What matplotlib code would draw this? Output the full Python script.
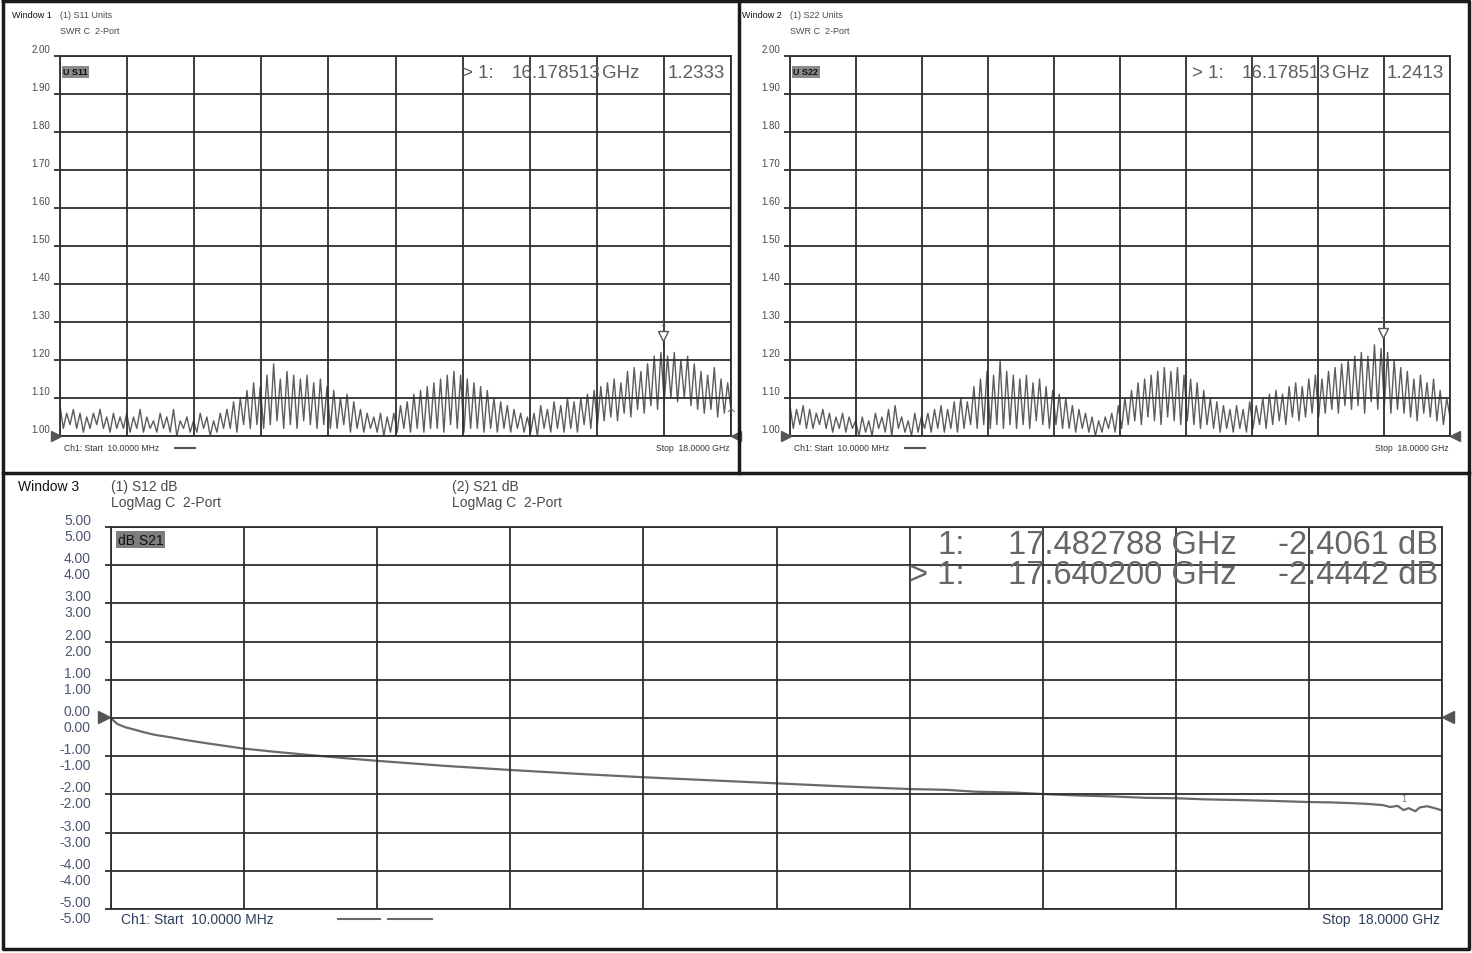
import numpy as np
import matplotlib
matplotlib.use('Agg')
import matplotlib.pyplot as plt
from matplotlib.lines import Line2D

W, H = 1472, 954

NARROW = ['Liberation Sans Narrow', 'Liberation Sans', 'DejaVu Sans']
REGULAR = ['Liberation Sans', 'DejaVu Sans']

# sweep
F_START, F_STOP = 0.01, 18.0
X_DIVS = np.linspace(F_START, F_STOP, 11)

# Window 1: S11 SWR, local maxima / minima of the ripple along the sweep
s11_peaks = [1.08, 1.06, 1.07, 1.06, 1.05, 1.06, 1.07, 1.05, 1.06, 1.05, 1.06, 1.05, 1.07,
             1.05, 1.04, 1.06, 1.05, 1.07, 1.04, 1.05, 1.04, 1.06, 1.05, 1.04, 1.06,
             1.07, 1.09, 1.10, 1.12, 1.14, 1.13,
             1.16, 1.19, 1.15, 1.17, 1.16, 1.15, 1.16, 1.14, 1.15, 1.13,
             1.12, 1.10, 1.11, 1.09,
             1.07, 1.06, 1.05, 1.06, 1.05,
             1.06, 1.08, 1.09, 1.11, 1.12, 1.13,
             1.14, 1.15, 1.16, 1.17, 1.16, 1.15, 1.14,
             1.13, 1.12, 1.10, 1.09, 1.08, 1.07, 1.06,
             1.05, 1.06, 1.08, 1.07, 1.09, 1.08, 1.10, 1.09, 1.10, 1.11,
             1.12, 1.13, 1.14, 1.15, 1.14, 1.17, 1.18, 1.17, 1.19, 1.21, 1.22,
             1.21, 1.22, 1.20, 1.21, 1.19, 1.17, 1.16, 1.18, 1.15, 1.14]
s11_troughs = [1.02, 1.03, 1.02, 1.01, 1.02, 1.03, 1.02, 1.01, 1.02, 1.02, 1.01, 1.02, 1.01,
               1.02, 1.01, 1.02, 1.01, 1.00, 1.02, 1.01, 1.01, 1.02, 1.00, 1.01, 1.02,
               1.02, 1.01, 1.03, 1.02, 1.03, 1.02,
               1.03, 1.04, 1.02, 1.03, 1.02, 1.04, 1.03, 1.02, 1.03, 1.02,
               1.02, 1.03, 1.01, 1.02,
               1.01, 1.02, 1.01, 1.00, 1.01,
               1.01, 1.02, 1.01, 1.02, 1.01, 1.02,
               1.02, 1.01, 1.03, 1.02, 1.01, 1.02, 1.02,
               1.01, 1.02, 1.01, 1.02, 1.01, 1.02, 1.01,
               1.01, 1.00, 1.02, 1.01, 1.02, 1.01, 1.02, 1.01, 1.03, 1.02,
               1.03, 1.04, 1.05, 1.04, 1.06, 1.05, 1.07, 1.06, 1.08, 1.07, 1.09,
               1.10, 1.09, 1.10, 1.08, 1.07, 1.06, 1.07, 1.05, 1.06, 1.07]

# Window 2: S22 SWR
s22_peaks = [1.08, 1.07, 1.08, 1.07, 1.06, 1.07, 1.06, 1.05, 1.06, 1.05,
             1.04, 1.05, 1.04, 1.06, 1.05, 1.07, 1.08, 1.05, 1.04, 1.06, 1.05,
             1.06, 1.07, 1.08, 1.07, 1.09, 1.10, 1.09,
             1.13, 1.15, 1.17, 1.16, 1.20, 1.17, 1.16, 1.15, 1.16, 1.14, 1.15, 1.13, 1.12, 1.11,
             1.10, 1.08, 1.07, 1.06, 1.05, 1.04, 1.05, 1.06, 1.08,
             1.10, 1.12, 1.14, 1.15, 1.16, 1.17, 1.18, 1.17, 1.18, 1.16, 1.15, 1.14, 1.12,
             1.10, 1.09, 1.08, 1.07, 1.08, 1.07, 1.09, 1.08, 1.10,
             1.11, 1.12, 1.11, 1.13, 1.14, 1.13, 1.15, 1.16, 1.15, 1.17, 1.18, 1.19,
             1.20, 1.21, 1.22, 1.21, 1.24, 1.23, 1.22, 1.20,
             1.18, 1.17, 1.15, 1.16, 1.14, 1.15, 1.12, 1.10]
s22_troughs = [1.02, 1.03, 1.02, 1.02, 1.03, 1.02, 1.01, 1.02, 1.01, 1.02,
               1.00, 1.01, 1.00, 1.02, 1.01, 1.00, 1.02, 1.01, 1.00, 1.01, 1.02,
               1.01, 1.02, 1.01, 1.02, 1.01, 1.02, 1.03,
               1.02, 1.03, 1.02, 1.03, 1.02, 1.03, 1.02, 1.03, 1.02, 1.04, 1.03, 1.02, 1.03, 1.02,
               1.02, 1.01, 1.02, 1.01, 1.00, 1.01, 1.02, 1.01, 1.02,
               1.03, 1.04, 1.03, 1.05, 1.04, 1.03, 1.05, 1.04, 1.03, 1.04, 1.03, 1.02, 1.03,
               1.02, 1.01, 1.02, 1.01, 1.02, 1.01, 1.02, 1.03, 1.02,
               1.03, 1.04, 1.03, 1.05, 1.04, 1.05, 1.06, 1.05, 1.06, 1.07, 1.06, 1.08,
               1.07, 1.08, 1.06, 1.09, 1.07, 1.08, 1.06, 1.07,
               1.06, 1.05, 1.04, 1.06, 1.05, 1.04, 1.03, 1.05]

# Window 3: S21 insertion loss
s21_freq = [0.01, 0.05, 0.1, 0.2, 0.3, 0.45, 0.6, 0.8, 1.0, 1.3, 1.8, 2.2, 2.7, 3.1, 3.6,
            4.5, 5.4, 6.3, 7.2, 8.1, 9.0, 9.9, 10.8, 11.3, 11.7, 12.2, 12.6, 13.1, 13.5,
            14.0, 14.4, 14.8, 15.3, 15.7, 16.2, 16.5, 16.8, 17.0, 17.2, 17.3, 17.4, 17.48,
            17.55, 17.64, 17.7, 17.8, 17.9, 18.0]
s21_db = [0.0, -0.08, -0.16, -0.24, -0.29, -0.37, -0.44, -0.50, -0.57, -0.66, -0.80, -0.88,
          -0.97, -1.04, -1.12, -1.25, -1.36, -1.46, -1.55, -1.63, -1.71, -1.79, -1.86, -1.88,
          -1.93, -1.95, -1.99, -2.03, -2.05, -2.09, -2.10, -2.13, -2.15, -2.17, -2.20, -2.21,
          -2.23, -2.25, -2.28, -2.33, -2.30, -2.41, -2.36, -2.44, -2.34, -2.31, -2.36, -2.42]

swr_ticks = [2.00, 1.90, 1.80, 1.70, 1.60, 1.50, 1.40, 1.30, 1.20, 1.10, 1.00]
db_ticks = [5, 4, 3, 2, 1, 0, -1, -2, -3, -4, -5]

GRID = '#2e2e2e'
TRACE = '#5c5c5c'
LABEL = '#4a4a4a'
DB_LABEL = '#4b5670'
READOUT = '#5e5e5e'


def fx(px):
    return px / W


def fy(py):
    return 1 - py / H


def ftext(fig, px, py, s, **kw):
    kw.setdefault('va', 'center')
    fig.text(fx(px), fy(py), s, **kw)


def zigzag(peaks, troughs):
    vals = np.empty(2 * len(peaks))
    vals[0::2] = peaks
    vals[1::2] = troughs
    freq = np.linspace(F_START, F_STOP, len(vals))
    return freq, vals


def style_axes(ax, yticks):
    ax.set_xlim(F_START, F_STOP)
    ax.set_xticks(X_DIVS)
    ax.set_yticks(yticks)
    ax.grid(True, color=GRID, lw=1.3)
    ax.set_axisbelow(False)
    for s in ax.spines.values():
        s.set_color(GRID)
        s.set_linewidth(1.3)
    ax.tick_params(axis='x', length=0, labelbottom=False)
    ax.tick_params(axis='y', length=4, width=1.3, color=GRID, labelleft=False)


def swr_panel(fig, left, right, peaks, troughs, name, mk_val, window):
    ax = fig.add_axes([fx(left), fy(437), fx(right - left), (437 - 57) / H])
    freq, vals = zigzag(peaks, troughs)
    ax.plot(freq, vals, color=TRACE, lw=1.0)
    ax.set_ylim(1.0, 2.0)
    style_axes(ax, swr_ticks)
    for t in swr_ticks:
        ax.annotate(f'{t:.2f}', xy=(0, t), xycoords=('axes fraction', 'data'),
                    xytext=(-10, 7), textcoords='offset pixels', ha='right', va='center',
                    fontsize=7, family=NARROW, color=LABEL)
    # marker 1
    ax.plot([16.178513], [mk_val + 0.03], marker='v', ms=7, mfc='white', mec='#555555',
            mew=1, clip_on=False, zorder=5)
    ax.plot([16.178513, 16.178513], [mk_val, mk_val + 0.03], color='#555555', lw=0.8)
    ax.text(16.178513, mk_val + 0.065, '1', ha='center', va='center', fontsize=6.5,
            family=NARROW, color='#555555')
    ax.text(0.005, 0.97, f'U {name}', transform=ax.transAxes, ha='left', va='top',
            fontsize=6.5, family=NARROW, weight='bold', color='#111111',
            bbox=dict(boxstyle='square,pad=0.15', fc='#8a8a8a', ec='none'))

    # readout, pieces placed where the analyser draws them
    ro = dict(fontsize=13.5, family=NARROW, color=READOUT)
    ftext(fig, left + 402, 74, '> 1:', **ro)
    ftext(fig, left + 452, 74, '16.178513', **ro)
    ftext(fig, left + 542, 74, 'GHz', **ro)
    ftext(fig, right - 6, 74, f'{mk_val:.4f}', ha='right', **ro)

    # header
    ftext(fig, left - 48, 16, f'Window {window}', fontsize=6.5, family=NARROW, color='#111111')
    ftext(fig, left, 16, f'(1) {name} Units', fontsize=6.5, family=NARROW, color=LABEL)
    ftext(fig, left, 32, 'SWR C  2-Port', fontsize=6.5, family=NARROW, color=LABEL)

    # footer
    ftext(fig, left + 4, 449, 'Ch1: Start  10.0000 MHz', fontsize=6.2, family=NARROW,
          color='#333333')
    fig.add_artist(Line2D([fx(left + 115), fx(left + 135)], [fy(449), fy(449)],
                          color='#555555', lw=1.5))
    ftext(fig, right - 1, 449, 'Stop  18.0000 GHz', fontsize=6.2, family=NARROW,
          color='#333333', ha='right')

    # reference level arrows
    fig.add_artist(Line2D([fx(left - 4)], [fy(437)], marker='>', ms=7, color='#555555',
                          lw=0))
    fig.add_artist(Line2D([fx(right + 5)], [fy(437)], marker='<', ms=7, color='#555555',
                          lw=0))
    return ax


fig = plt.figure(figsize=(W / 100, H / 100), dpi=100)
fig.patch.set_facecolor('white')

ax1 = swr_panel(fig, 60, 731, s11_peaks, s11_troughs, 'S11', 1.2333, 1)
ax1.text(F_STOP, 1.06, '^', ha='center', va='center', fontsize=9, color='#666666',
         clip_on=False)
ax2 = swr_panel(fig, 790, 1450, s22_peaks, s22_troughs, 'S22', 1.2413, 2)

# Window 3
ax3 = fig.add_axes([fx(111), fy(910), fx(1442 - 111), (910 - 528) / H])
ax3.plot(s21_freq, s21_db, color='#6a6a6a', lw=1.6)
ax3.set_ylim(-5, 5)
style_axes(ax3, db_ticks)
for t in db_ticks:
    for off in (7, -9):
        ax3.annotate(f'{t:.2f}', xy=(0, t), xycoords=('axes fraction', 'data'),
                     xytext=(-20, off), textcoords='offset pixels', ha='right', va='center',
                     fontsize=10, family=REGULAR, color=DB_LABEL)
ax3.text(0.005, 0.985, 'dB S21', transform=ax3.transAxes, ha='left', va='top',
         fontsize=10, family=REGULAR, color='#111111',
         bbox=dict(boxstyle='square,pad=0.1', fc='#7e7e7e', ec='none'))
ax3.text(17.48, -2.12, '1', ha='center', va='center', fontsize=6, color='#777777')

ro3 = dict(fontsize=23.5, family=REGULAR, color='#666666')
for py, lead, f, v in [(545, '1:', '17.482788 GHz', '-2.4061 dB'),
                       (576, '> 1:', '17.640200 GHz', '-2.4442 dB')]:
    ftext(fig, 965, py, lead, ha='right', **ro3)
    ftext(fig, 1008, py, f, **ro3)
    ftext(fig, 1438, py, v, ha='right', **ro3)

ftext(fig, 18, 487, 'Window 3', fontsize=10, family=REGULAR, color='#111111')
ftext(fig, 111, 487, '(1) S12 dB', fontsize=10, family=REGULAR, color=LABEL)
ftext(fig, 111, 503, 'LogMag C  2-Port', fontsize=10, family=REGULAR, color=LABEL)
ftext(fig, 452, 487, '(2) S21 dB', fontsize=10, family=REGULAR, color=LABEL)
ftext(fig, 452, 503, 'LogMag C  2-Port', fontsize=10, family=REGULAR, color=LABEL)

ftext(fig, 121, 920, 'Ch1: Start  10.0000 MHz', fontsize=10, family=REGULAR,
      color='#2f3d5c')
for a, b in [(338, 380), (388, 432)]:
    fig.add_artist(Line2D([fx(a), fx(b)], [fy(920), fy(920)], color='#6a6a6a', lw=1.5))
ftext(fig, 1440, 920, 'Stop  18.0000 GHz', fontsize=10, family=REGULAR, color='#2f3d5c',
      ha='right')

fig.add_artist(Line2D([fx(104)], [fy(718)], marker='>', ms=9, color='#555555', lw=0))
fig.add_artist(Line2D([fx(1448)], [fy(718)], marker='<', ms=9, color='#555555', lw=0))

# window frames
frame = dict(color='#1a1a1a', lw=2.5)
fig.add_artist(Line2D([fx(3), fx(1469), fx(1469), fx(3), fx(3)],
                      [fy(2), fy(2), fy(950), fy(950), fy(2)], **frame))
fig.add_artist(Line2D([fx(739), fx(739)], [fy(2), fy(474)], **frame))
fig.add_artist(Line2D([fx(3), fx(1469)], [fy(474), fy(474)], **frame))

fig.savefig('out.png', dpi=100)
